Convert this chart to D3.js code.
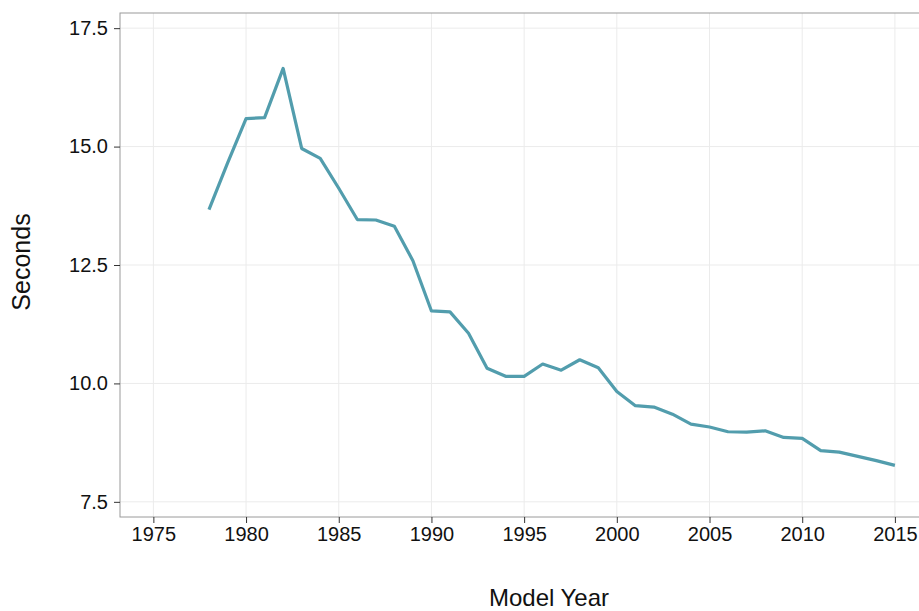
<!DOCTYPE html>
<html>
<head>
<meta charset="utf-8">
<script src="https://cdn.jsdelivr.net/npm/d3@7"></script>
<style>
  body { margin: 0; background: #fff; }
  text { font-family: "Liberation Sans", Arial, sans-serif; fill: #111; }
</style>
</head>
<body>
<div id="chart"></div>
<script>
// Data
var years = [1978, 1979, 1980, 1981, 1982, 1983, 1984, 1985, 1986, 1987,
             1988, 1989, 1990, 1991, 1992, 1993, 1994, 1995, 1996, 1997,
             1998, 1999, 2000, 2001, 2002, 2003, 2004, 2005, 2006, 2007,
             2008, 2009, 2010, 2011, 2012, 2013, 2014, 2015];
var seconds = [13.67, 14.65, 15.59, 15.61, 16.65, 14.96, 14.75, 14.12, 13.46, 13.45,
               13.32, 12.59, 11.53, 11.51, 11.06, 10.32, 10.15, 10.15, 10.41, 10.28,
               10.50, 10.33, 9.83, 9.53, 9.50, 9.35, 9.14, 9.08, 8.98, 8.97,
               9.00, 8.86, 8.84, 8.58, 8.55, 8.46, 8.37, 8.27];
var xTicks = [1975, 1980, 1985, 1990, 1995, 2000, 2005, 2010, 2015];
var yTicks = [7.5, 10.0, 12.5, 15.0, 17.5];

var data = years.map(function(y, i) { return {year: y, value: seconds[i]}; });

//SVG area
var svgWidth = 919;
var svgHeight = 611;

var chartMargin = { top: 13, right: 0, bottom: 94, left: 120 };
var chartWidth = svgWidth - chartMargin.left - chartMargin.right;
var chartHeight = svgHeight - chartMargin.top - chartMargin.bottom;

var svg = d3.select("#chart")
    .append("svg")
    .attr("width", svgWidth)
    .attr("height", svgHeight);

var chartGroup = svg.append("g")
    .attr("transform", `translate(${chartMargin.left}, ${chartMargin.top})`);

//Scales
var xScale = d3.scaleLinear()
    .domain([1973.2, 2016.3])
    .range([0, chartWidth]);

var yScale = d3.scaleLinear()
    .domain([7.18, 17.82])
    .range([chartHeight, 0]);

//Gridlines
chartGroup.append("g")
    .selectAll("line")
    .data(xTicks)
    .enter()
    .append("line")
    .attr("x1", d => xScale(d))
    .attr("x2", d => xScale(d))
    .attr("y1", 0)
    .attr("y2", chartHeight)
    .attr("stroke", "#ebebeb")
    .attr("stroke-width", 1);

chartGroup.append("g")
    .selectAll("line")
    .data(yTicks)
    .enter()
    .append("line")
    .attr("x1", 0)
    .attr("x2", chartWidth)
    .attr("y1", d => yScale(d))
    .attr("y2", d => yScale(d))
    .attr("stroke", "#ebebeb")
    .attr("stroke-width", 1);

//Panel border
chartGroup.append("rect")
    .attr("x", 0)
    .attr("y", 0)
    .attr("width", chartWidth + 2)
    .attr("height", chartHeight)
    .attr("fill", "none")
    .attr("stroke", "#9a9a9a")
    .attr("stroke-width", 1);

//Axes
var bottomAxis = d3.axisBottom(xScale)
    .tickValues(xTicks)
    .tickFormat(d3.format("d"))
    .tickSize(6)
    .tickPadding(4);

var leftAxis = d3.axisLeft(yScale)
    .tickValues(yTicks)
    .tickFormat(d3.format(".1f"))
    .tickSize(6)
    .tickPadding(6);

var xAxis = chartGroup.append("g")
    .attr("transform", `translate(0, ${chartHeight})`)
    .call(bottomAxis);

var yAxis = chartGroup.append("g")
    .call(leftAxis);

[xAxis, yAxis].forEach(function(ax) {
    ax.select(".domain").remove();
    ax.selectAll(".tick line").attr("stroke", "#333");
    ax.selectAll(".tick text")
        .attr("font-size", "20px")
        .attr("fill", "#111");
});

//Line
var line = d3.line()
    .x(d => xScale(d.year))
    .y(d => yScale(d.value));

chartGroup.append("path")
    .datum(data)
    .attr("d", line)
    .attr("fill", "none")
    .attr("stroke", "#529dad")
    .attr("stroke-width", 3.2)
    .attr("stroke-linejoin", "round");

//Axis labels
svg.append("text")
    .attr("x", 549)
    .attr("y", 606)
    .attr("text-anchor", "middle")
    .attr("font-size", "24px")
    .text("Model Year");

svg.append("text")
    .attr("transform", "rotate(-90)")
    .attr("x", -262)
    .attr("y", 30)
    .attr("text-anchor", "middle")
    .attr("font-size", "25px")
    .text("Seconds");
</script>
</body>
</html>
